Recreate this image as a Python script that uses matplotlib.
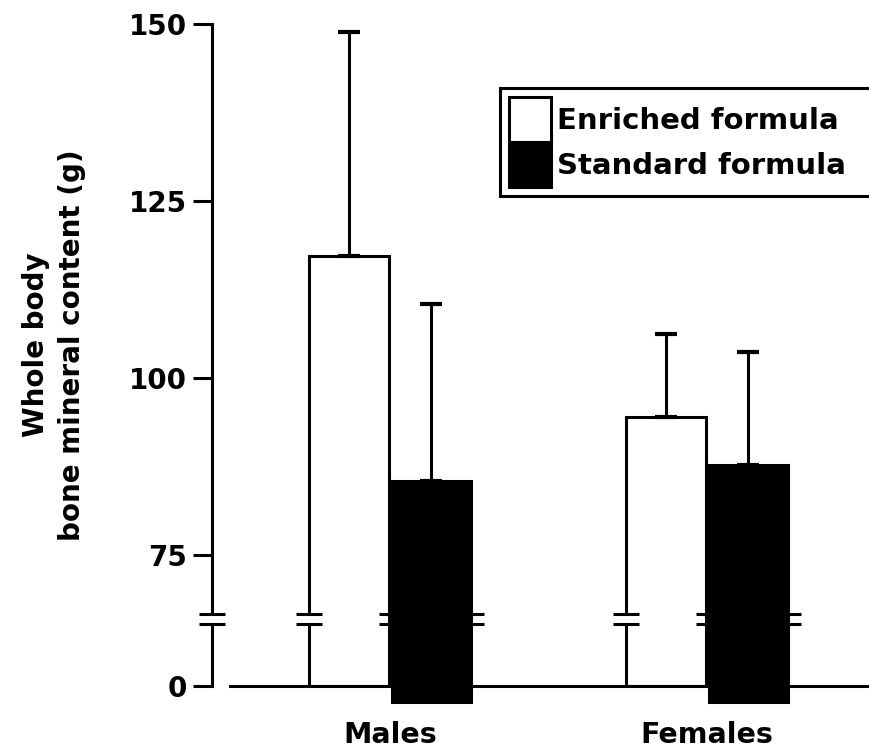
import matplotlib
matplotlib.use("Agg")
import matplotlib.pyplot as plt
import numpy as np
from matplotlib.patches import Patch, Rectangle

# group labels and bar values (g)
groups = ["Males", "Females"]
enriched_mean = [117.2, 94.5]
enriched_sd = [31.7, 11.7]
standard_mean = [85.5, 87.7]
standard_sd = [25.0, 16.0]
series_labels = ["Enriched formula", "Standard formula"]
ytick_values = [75, 100, 125, 150]

# broken y axis: the 0 baseline sits below 75 with a break in between
ZERO_POS = 56.5
BREAK_LO, BREAK_HI = 65.3, 66.7
OVERHANG = 54.2   # solid bars run a little past the baseline

plt.rcParams["font.family"] = "DejaVu Sans"
plt.rcParams["font.weight"] = "bold"

fig = plt.figure(figsize=(8.7, 7.48), dpi=100)
ax = fig.add_axes([0.2437, 0.0829, 0.7563, 0.885])

x = np.arange(len(groups))
off = 0.13
w = 0.25
lw = 2.2

enr = np.array(enriched_mean)
std = np.array(standard_mean)

ax.bar(x - off, enr - ZERO_POS, bottom=ZERO_POS, width=w, facecolor="white",
       edgecolor="black", linewidth=lw, zorder=2)
ax.bar(x + off, std - OVERHANG, bottom=OVERHANG, width=w, facecolor="black",
       edgecolor="black", linewidth=lw, zorder=2, clip_on=False)

zeros = np.zeros(len(groups))
ax.errorbar(x - off, enr, yerr=[zeros, enriched_sd], fmt="none", ecolor="black",
            elinewidth=lw, capsize=8, capthick=3, zorder=3)
ax.errorbar(x + off, std, yerr=[zeros, standard_sd], fmt="none", ecolor="black",
            elinewidth=lw, capsize=8, capthick=3, zorder=3)

ax.set_xlim(-0.562, 1.514)
ax.set_ylim(ZERO_POS, 150)

for side in ("top", "right"):
    ax.spines[side].set_visible(False)
ax.spines["left"].set_linewidth(lw)
ax.spines["bottom"].set_linewidth(lw)
ax.spines["bottom"].set_bounds(-0.505, 1.514)

ax.set_yticks([ZERO_POS] + ytick_values)
ax.set_yticklabels(["0"] + [str(v) for v in ytick_values])
ax.tick_params(axis="y", length=14, width=lw, pad=4, labelsize=20)
ax.set_xticks(x)
ax.set_xticklabels(groups)
ax.tick_params(axis="x", length=0, pad=25, labelsize=20.5)


def draw_break(xc, gap=True):
    half = 0.041
    if gap:
        ax.add_patch(Rectangle((xc - half, BREAK_LO), 2 * half, BREAK_HI - BREAK_LO,
                               facecolor="white", edgecolor="none", zorder=4,
                               clip_on=False))
    for yb in (BREAK_LO, BREAK_HI):
        ax.plot([xc - half, xc + half], [yb, yb], color="black", lw=lw,
                zorder=5, clip_on=False, solid_capstyle="butt")


draw_break(-0.562)
for xi in x:
    draw_break(xi - off - w / 2)
    draw_break(xi + off - w / 2, gap=False)
    draw_break(xi + off + w / 2, gap=False)

fig.text(54 / 870, 1 - 345 / 748, "Whole body\nbone mineral content (g)",
         rotation=90, ha="center", va="center", multialignment="center",
         fontsize=20, fontweight="bold", linespacing=1.35)

handles = [Patch(facecolor="white", edgecolor="black", linewidth=lw),
           Patch(facecolor="black", edgecolor="black", linewidth=lw)]
# legend frame runs off the right edge of the figure
leg = ax.legend(handles, series_labels, loc="upper left", mode="expand",
                bbox_to_anchor=(0.4377, 0.0, 0.62, 0.903), borderaxespad=0,
                fontsize=21, handlelength=1.44, handleheight=2.0,
                handletextpad=0.2, labelspacing=0, borderpad=0.3,
                fancybox=False, framealpha=1, edgecolor="black")
leg.get_frame().set_linewidth(lw)

fig.savefig("out.png", dpi=100)
